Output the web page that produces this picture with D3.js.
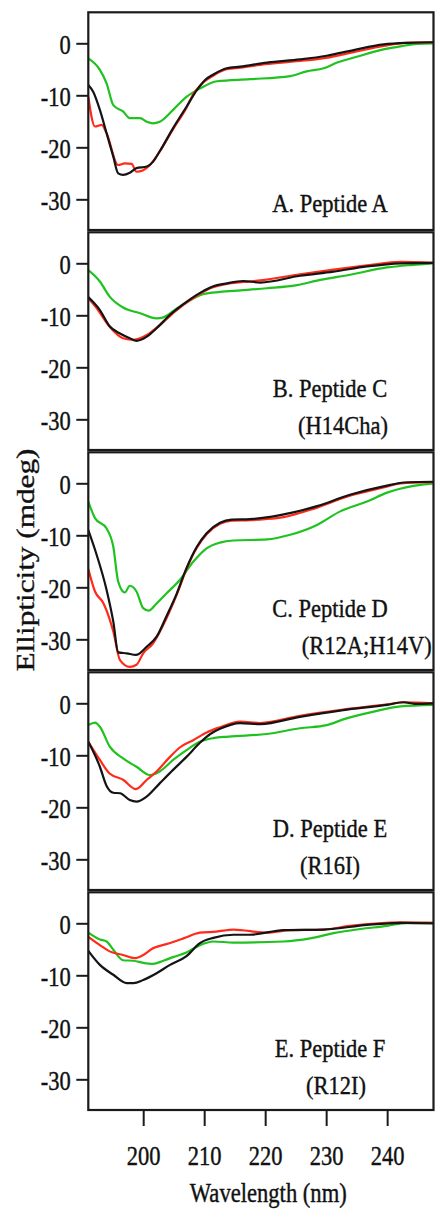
<!DOCTYPE html>
<html>
<head>
<meta charset="utf-8">
<script src="https://cdn.jsdelivr.net/npm/d3@7"></script>
<style>
  body { margin: 0; background: #fff; }
  text { font-family: "Liberation Serif", "Times New Roman", serif; fill: #111; stroke: #111; stroke-width: 0.35px; }
</style>
</head>
<body>
<div id="chart"></div>
<script>
// CD spectra, [wavelength nm, ellipticity mdeg]
const peptideA_green = [[191,-2.9],[192.9,-5.1],[194,-7.7],[195.1,-11.9],[196.7,-13.1],[197.8,-14.4],[199.5,-14.4],[200.6,-15.1],[201.6,-15.4],[202.7,-15.1],[204.9,-12.8],[207.1,-10.3],[209.3,-8.7],[212.1,-7.3],[217.5,-6.9],[224.1,-6.3],[226.8,-5.4],[229.6,-4.8],[231.8,-3.7],[235,-2.6],[238.9,-1.3],[242.2,-0.6],[244.9,-0.1],[247.6,0]];
const peptideA_red = [[191,-10.3],[192.1,-16.0],[193.2,-15.7],[194,-17.3],[195.9,-23.4],[197,-23.1],[198.1,-23.2],[198.9,-24.7],[200,-24.4],[201.1,-23.4],[202.7,-20.8],[204.9,-16.5],[207.1,-12.4],[208.2,-9.8],[210.1,-7.3],[211.5,-6.2],[213.7,-5.0],[216,-4.7],[220,-4.0],[225.7,-3.4],[230,-2.8],[234.5,-1.7],[239.4,-0.5],[243,0.1],[247.6,0.2]];
const peptideA_black = [[191,-8.0],[191.8,-9.3],[192.9,-12.8],[194,-17.3],[195.1,-21.8],[195.9,-25],[196.7,-25.3],[197.8,-24.9],[198.9,-24],[200.6,-23.7],[201.6,-22.8],[202.7,-20.8],[204.9,-16.3],[207.1,-12.2],[208.8,-9.0],[210.1,-7.1],[211.5,-6.0],[213.7,-4.8],[215.9,-4.5],[220.3,-3.7],[225.7,-3.1],[230.1,-2.4],[234.5,-1.3],[239.4,-0.2],[243.3,0.1],[247.6,0.2]];

const peptideC_green = [[191,-1.3],[192.9,-3.5],[194.5,-6.4],[196.7,-8.5],[199.5,-9.6],[202.2,-10.6],[203.3,-10.4],[205.5,-8.7],[207.7,-7.1],[209.9,-5.9],[212.6,-5.5],[216,-5.2],[220.3,-4.8],[225.2,-4.2],[229,-3.2],[233.9,-2.2],[240,-0.8],[244.3,-0.3],[247.6,0]];
const peptideC_red = [[191,-6.7],[192.3,-8.5],[194.5,-12.2],[196.7,-14.4],[198.4,-14.7],[200.6,-13.8],[202.7,-11.9],[205.5,-9.0],[208.2,-6.7],[211,-4.8],[213.5,-4.0],[216.4,-3.6],[219.2,-3.3],[225.7,-2.1],[231.2,-1.2],[236.7,-0.4],[242.2,0.3],[247.6,0.1]];
const peptideC_black = [[191,-6.5],[192.9,-9.0],[194.5,-12.1],[196.2,-13.5],[197.8,-14.4],[198.9,-14.9],[200.6,-14.1],[202.2,-12.5],[204.4,-9.9],[207.1,-7.4],[209.9,-5.3],[211.5,-4.4],[213.5,-3.9],[216.4,-3.4],[219.2,-3.7],[225.7,-2.4],[231.2,-1.6],[236.7,-0.6],[242.2,0],[247.6,0.1]];

const peptideD_green = [[191,-3.5],[192.1,-6.7],[194,-8.7],[195.1,-12.2],[195.9,-18.9],[197,-21.0],[197.8,-19.7],[198.9,-20.8],[200,-24.0],[200.9,-24.5],[202.2,-23.1],[203.8,-21.2],[206,-18.6],[208.2,-15.1],[210.4,-12.5],[212.6,-11.4],[214.8,-11.0],[220.3,-10.8],[224.1,-9.9],[228.5,-8.0],[232.3,-5.4],[236.7,-3.5],[240,-1.8],[244.3,-0.5],[247.6,0]];
const peptideD_red = [[191,-16.5],[192.1,-20.8],[193.5,-23.1],[195.1,-28.5],[196.2,-34.0],[197.8,-35.3],[198.9,-34.9],[200,-32.7],[201.6,-30.8],[203.8,-26.0],[205.5,-21.4],[207.1,-16.5],[208.8,-12.4],[210.4,-9.8],[212.6,-7.8],[214.5,-7.2],[217.5,-7.1],[220,-6.9],[223,-6.5],[227.4,-5.1],[233.9,-2.4],[239.4,-0.8],[242.2,0],[247.6,0.2]];
const peptideD_black = [[191,-9.0],[192.3,-13.5],[194,-20.5],[195.1,-26.6],[195.9,-32.5],[197.3,-32.7],[198.8,-33.0],[200.6,-31.4],[202.2,-29.5],[203.8,-25.6],[205.5,-21.2],[207.1,-16.3],[208.8,-12.2],[210.4,-9.6],[212.6,-7.6],[214.5,-7.0],[217.5,-6.9],[224.6,-5.6],[228.5,-4.4],[233.9,-2.2],[239.4,-0.6],[243.3,0.2],[247.6,0.3]];

const peptideE_green = [[191,-4.2],[192.1,-3.7],[192.9,-4.5],[194.5,-8.3],[196.7,-10.6],[198.9,-12.2],[201.1,-13.8],[202.7,-13.1],[204.9,-10.9],[207.1,-9.0],[209.3,-7.4],[211.5,-6.7],[214,-6.4],[220.3,-5.9],[225.7,-4.8],[230.1,-4.2],[232.8,-3.1],[237.8,-1.6],[242.2,-0.6],[247.6,-0.3]];
const peptideE_red = [[191,-7.4],[192.9,-10.9],[194.5,-13.5],[196.7,-14.7],[198.8,-16.5],[200.6,-14.7],[202.2,-13.1],[204.4,-10.3],[206,-8.5],[208.2,-7.1],[210.4,-5.6],[212.6,-4.6],[215.9,-3.5],[219.2,-3.8],[225.7,-2.4],[232.8,-1.2],[240,-0.2],[242.7,0.2],[247.6,0]];
const peptideE_black = [[191,-7.4],[192.9,-12.2],[194,-15.9],[195.1,-17.2],[196.2,-17.3],[197.8,-18.6],[198.9,-18.9],[200.6,-17.9],[202.7,-15.4],[204.9,-12.8],[207.1,-10.3],[209.3,-7.6],[211,-5.9],[212.6,-4.9],[215.9,-3.8],[219.2,-4.0],[225.7,-2.6],[232.8,-1.3],[240,-0.3],[242.7,0.2],[244.5,-0.1],[247.6,0]];

const peptideF_green = [[191,-1.8],[192.9,-3.1],[194,-3.5],[195.1,-5.1],[196.7,-7.1],[198.4,-7.2],[200,-7.6],[201.6,-7.8],[203.3,-7.2],[204.9,-6.5],[207.1,-5.6],[209.3,-4.2],[211.5,-3.5],[214.8,-3.7],[223,-3.5],[227.4,-2.9],[231.2,-1.9],[235.6,-1.1],[240,-0.5],[243.3,0.1],[247.6,0.1]];
const peptideF_red = [[191,-2.6],[192.9,-4.2],[194.5,-5.4],[196.7,-6.1],[198.6,-6.7],[200,-6.1],[201.6,-4.8],[203.8,-4.0],[206.6,-2.9],[209.3,-1.8],[212,-1.6],[214.8,-1.2],[220.3,-1.8],[224.1,-1.3],[229.6,-1.2],[233.9,-0.5],[242.2,0.2],[247.6,0.1]];
const peptideF_black = [[191,-5.3],[192.9,-8.0],[195.1,-9.9],[197.3,-11.5],[198.4,-11.5],[200,-10.9],[202.2,-9.6],[204.4,-8.0],[207.1,-6.3],[209.3,-3.8],[211.5,-2.8],[214.8,-2.2],[217.5,-2.2],[223,-1.3],[229.6,-1.2],[236.7,-0.3],[242.2,0.1],[247.6,0]];

const panelTitles = ["A. Peptide A", "B. Peptide C", "C. Peptide D", "D. Peptide E", "E. Peptide F"];
const panelSubtitles = ["", "(H14Cha)", "(R12A;H14V)", "(R16I)", "(R12I)"];
const xTicks = [200, 210, 220, 230, 240];
const yTicks = [0, -10, -20, -30];

const panels = [
  [peptideA_green, peptideA_red, peptideA_black],
  [peptideC_green, peptideC_red, peptideC_black],
  [peptideD_green, peptideD_red, peptideD_black],
  [peptideE_green, peptideE_red, peptideE_black],
  [peptideF_green, peptideF_red, peptideF_black]
];
const colors = ["#1fc21f", "#ff2a1a", "#141414"];

// layout
const W = 436, H = 1213;
const left = 88.3, right = 433.5;
const top0 = 12.3, step = 220, panelH = 217.7;
const subX = [0, 298, 301.7, 300, 306];
const stretch = 1.2;

const svg = d3.select("#chart").append("svg")
  .attr("width", W).attr("height", H);

const x = d3.scaleLinear().domain([191, 247.6]).range([left, right]);

panels.forEach((series, i) => {
  const top = top0 + i * step;
  const y = d3.scaleLinear().domain([-35.9, 5.96]).range([top + panelH, top]);

  svg.append("clipPath").attr("id", "clip" + i)
    .append("rect").attr("x", left).attr("y", top)
    .attr("width", right - left).attr("height", panelH);

  const line = d3.line()
    .x(d => x(d[0])).y(d => y(d[1]))
    .curve(d3.curveMonotoneX);

  svg.append("g").attr("clip-path", `url(#clip${i})`)
    .selectAll("path")
    .data(series)
    .join("path")
    .attr("d", line)
    .attr("fill", "none")
    .attr("stroke", (d, j) => colors[j])
    .attr("stroke-width", 2.2)
    .attr("stroke-linejoin", "round");

  // y axis
  const ya = svg.append("g")
    .attr("transform", `translate(${left},0)`)
    .call(d3.axisLeft(y).tickValues(yTicks).tickSize(12)
      .tickFormat(d => d === 0 ? "0" : "-" + Math.abs(d)));
  ya.select(".domain").remove();
  ya.selectAll(".tick line").attr("stroke", "#1a1a1a").attr("stroke-width", 2);
  ya.selectAll(".tick text")
    .attr("x", null).attr("dy", null)
    .attr("transform", `translate(-17.6,10) scale(1,${stretch + 0.05})`)
    .attr("text-anchor", "end")
    .style("font-size", "22.5px")
    .style("font-family", '"Liberation Serif", serif')
    .attr("fill", "#111");

  // frame
  svg.append("rect")
    .attr("x", left).attr("y", top)
    .attr("width", right - left).attr("height", panelH)
    .attr("fill", "none").attr("stroke", "#1a1a1a").attr("stroke-width", 2.2);

  // panel labels
  const twoLine = panelSubtitles[i] !== "";
  svg.append("text")
    .attr("transform", `translate(330,${top + (twoLine ? 165 : 200)}) scale(1,1.15)`)
    .attr("text-anchor", "middle")
    .style("font-size", "22.5px")
    .text(panelTitles[i]);
  if (twoLine) {
    svg.append("text")
      .attr("transform", `translate(${subX[i]},${top + 201.3}) scale(1,1.15)`)
      .attr("text-anchor", "start")
      .style("font-size", "22.5px")
      .text(panelSubtitles[i]);
  }
});

// x axis (bottom panel)
const xBase = top0 + 4 * step + panelH;
const xa = svg.append("g")
  .attr("transform", `translate(0,${xBase})`)
  .call(d3.axisBottom(x).tickValues(xTicks).tickSize(16));
xa.select(".domain").remove();
xa.selectAll(".tick line").attr("stroke", "#1a1a1a").attr("stroke-width", 2);
xa.selectAll(".tick text")
  .attr("y", null).attr("dy", null)
  .attr("transform", `translate(0,54.5) scale(1,${stretch + 0.05})`)
  .style("font-size", "22.5px")
  .style("font-family", '"Liberation Serif", serif')
  .attr("fill", "#111");

svg.append("text")
  .attr("transform", `translate(268.3,1202) scale(1,${stretch})`)
  .attr("text-anchor", "middle")
  .style("font-size", "22.6px")
  .text("Wavelength (nm)");

svg.append("text")
  .attr("transform", "translate(33.5,560) rotate(-90) scale(1.25,1)")
  .attr("text-anchor", "middle")
  .style("font-size", "25px")
  .text("Ellipticity (mdeg)");
</script>
</body>
</html>
